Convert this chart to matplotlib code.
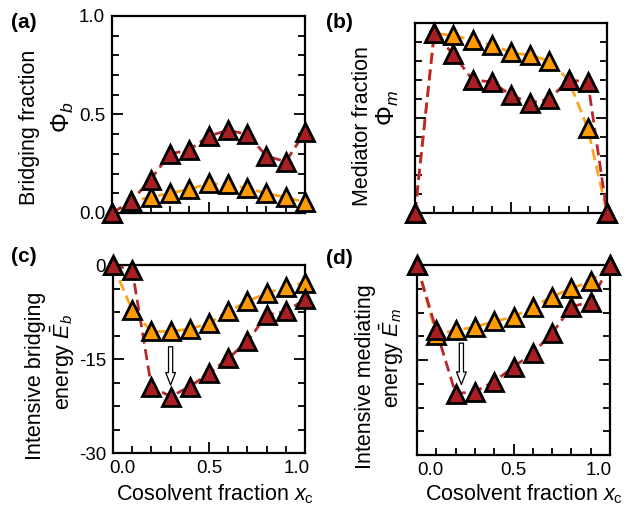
import matplotlib
matplotlib.use("Agg")
import matplotlib.pyplot as plt
import matplotlib.transforms as mtransforms
from matplotlib.patches import FancyArrowPatch
from matplotlib.ticker import MultipleLocator

plt.rcParams['font.family'] = ['Liberation Sans', 'DejaVu Sans']
plt.rcParams['mathtext.fontset'] = 'custom'
plt.rcParams['mathtext.rm'] = 'Liberation Sans'
plt.rcParams['mathtext.it'] = 'Liberation Sans:italic'
plt.rcParams['mathtext.bf'] = 'Liberation Sans:bold'
plt.rcParams['axes.unicode_minus'] = False

# cosolvent fraction
xc = [0.0, 0.1, 0.2, 0.3, 0.4, 0.5, 0.6, 0.7, 0.8, 0.9, 1.0]

# (a) bridging fraction
phi_b_red = [0.0, 0.06, 0.17, 0.30, 0.32, 0.39, 0.42, 0.40, 0.29, 0.26, 0.41]
phi_b_orange = [0.0, 0.06, 0.08, 0.10, 0.12, 0.15, 0.145, 0.125, 0.10, 0.08, 0.055]

# (b) mediator fraction
phi_m_red = [0.0, 0.945, 0.835, 0.70, 0.69, 0.62, 0.58, 0.60, 0.70, 0.69, 0.0]
phi_m_orange = [0.0, 0.945, 0.935, 0.91, 0.885, 0.845, 0.83, 0.80, 0.70, 0.445, 0.0]

# (c) intensive bridging energy
e_b_red = [0.0, -0.8, -19.4, -21.0, -19.4, -17.3, -14.9, -12.2, -8.0, -7.4, -5.5]
e_b_orange = [0.0, -7.2, -10.6, -10.6, -10.2, -9.3, -7.4, -5.8, -4.5, -3.5, -2.8]

# (d) intensive mediating energy (same scale as c, unlabeled)
e_m_red = [0.0, -10.3, -20.3, -20.0, -18.4, -16.1, -13.9, -10.8, -6.6, -5.8, 0.0]
e_m_orange = [0.0, -11.0, -10.3, -9.8, -8.9, -8.2, -6.6, -5.0, -3.7, -2.6, 0.0]

RED = '#A81E22'
RED_LINE = '#B8282C'
ORANGE = '#FF9A00'
ORANGE_LINE = '#FFA31A'

W, H = 624, 508
fig = plt.figure(figsize=(W / 100, H / 100), dpi=100)


def add_ax(left, top, right, bottom):
    return fig.add_axes([left / W, 1 - bottom / H, (right - left) / W, (bottom - top) / H])


def draw_series(ax, y_red, y_orange):
    ax.plot(xc, y_orange, ls=(0, (4, 2)), color=ORANGE_LINE, lw=2.0, zorder=2, clip_on=False)
    ax.plot(xc, y_red, ls=(0, (4, 2)), color=RED_LINE, lw=2.0, zorder=2, clip_on=False)
    ax.plot(xc, y_orange, ls='none', marker='^', ms=13.5, mfc=ORANGE, mec='black',
            mew=2.0, zorder=3, clip_on=False)
    ax.plot(xc, y_red, ls='none', marker='^', ms=13.5, mfc=RED, mec='black',
            mew=2.0, zorder=4, clip_on=False)


def style(ax):
    for s in ax.spines.values():
        s.set_linewidth(1.6)
    ax.set_xlim(0, 1)
    ax.set_xticks([0, 0.5, 1.0])
    ax.xaxis.set_minor_locator(MultipleLocator(0.1))
    ax.tick_params(which='both', direction='in', right=True, top=False,
                   width=1.3, labelsize=13.5, pad=5)
    ax.tick_params(which='major', length=8)
    ax.tick_params(which='minor', length=5)


def shift_edge_labels(ax, dx_left, dx_right):
    labels = ax.get_xticklabels()
    labels[0].set_transform(labels[0].get_transform() +
                            mtransforms.ScaledTranslation(dx_left / 100, 0, fig.dpi_scale_trans))
    labels[-1].set_transform(labels[-1].get_transform() +
                             mtransforms.ScaledTranslation(dx_right / 100, 0, fig.dpi_scale_trans))


def add_arrow(ax, x, y0, y1):
    arr = FancyArrowPatch((x, y0), (x, y1),
                          arrowstyle='simple,head_length=9,head_width=7,tail_width=3',
                          mutation_scale=1, fc='white', ec='black', lw=0.9, zorder=5)
    ax.add_patch(arr)


# (a)
ax_a = add_ax(112, 16, 305, 213)
draw_series(ax_a, phi_b_red, phi_b_orange)
style(ax_a)
ax_a.set_ylim(0, 1)
ax_a.set_yticks([0, 0.5, 1.0])
ax_a.set_yticklabels(['0.0', '0.5', '1.0'])
ax_a.yaxis.set_minor_locator(MultipleLocator(0.1))
ax_a.set_xticklabels([])

# (b)
ax_b = add_ax(415, 23, 607, 213)
draw_series(ax_b, phi_m_red, phi_m_orange)
style(ax_b)
ax_b.set_ylim(0, 1)
ax_b.set_yticks([0, 0.5, 1.0])
ax_b.yaxis.set_minor_locator(MultipleLocator(0.1))
ax_b.set_xticklabels([])
ax_b.set_yticklabels([])

# (c)
ax_c = add_ax(113, 265, 305, 453)
draw_series(ax_c, e_b_red, e_b_orange)
style(ax_c)
ax_c.set_ylim(-30, 0)
ax_c.set_yticks([-30, -15, 0])
ax_c.set_yticklabels(['-30', '-15', '0'])
ax_c.yaxis.set_minor_locator(MultipleLocator(3.75))
ax_c.set_xticklabels(['0.0', '0.5', '1.0'])
shift_edge_labels(ax_c, 9, -8)
add_arrow(ax_c, 0.3, -12.6, -19.6)

# (d)
ax_d = add_ax(417, 265, 610, 455)
draw_series(ax_d, e_m_red, e_m_orange)
style(ax_d)
ax_d.set_ylim(-30, 0)
ax_d.set_yticks([-30, -15, 0])
ax_d.yaxis.set_minor_locator(MultipleLocator(3.75))
ax_d.set_yticklabels([])
ax_d.set_xticklabels(['0.0', '0.5', '1.0'])
shift_edge_labels(ax_d, 13, -11)
add_arrow(ax_d, 0.23, -11.9, -19.3)


def ftext(x, y, s, **kw):
    fig.text(x / W, 1 - y / H, s, **kw)


lab = dict(fontsize=15.5, rotation=90, ha='center', va='center')
mlab = dict(fontsize=18, rotation=90, ha='center', va='center')
ftext(30, 127, 'Bridging fraction', **lab)
ftext(63, 117, r'$\Phi_b$', **mlab)
ftext(363, 126, 'Mediator fraction', **lab)
ftext(388, 108, r'$\Phi_m$', **mlab)
ftext(36, 376, 'Intensive bridging', **lab)
ftext(63, 362, r'energy $\bar{E}_b$', **lab)
ftext(365, 377, 'Intensive mediating', **lab)
ftext(392, 358, r'energy $\bar{E}_m$', **lab)

xl = dict(fontsize=15.5, ha='center', va='center')
ftext(215, 494, r'Cosolvent fraction $x_\mathrm{c}$', **xl)
ftext(524, 494, r'Cosolvent fraction $x_\mathrm{c}$', **xl)

pl = dict(fontsize=15, fontweight='bold', ha='left', va='center')
ftext(11, 23, '(a)', **pl)
ftext(326, 22, '(b)', **pl)
ftext(11, 257, '(c)', **pl)
ftext(326, 258, '(d)', **pl)

fig.savefig('out.png', dpi=100)
